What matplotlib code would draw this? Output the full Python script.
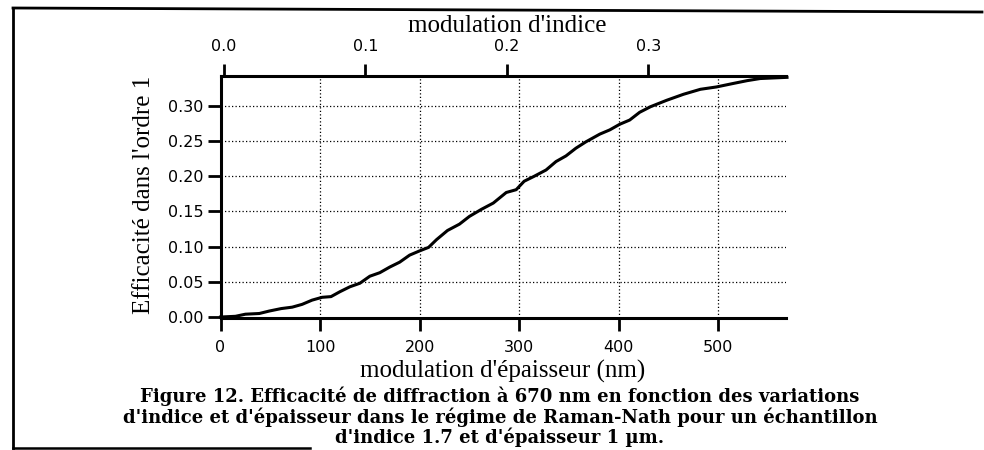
import matplotlib
matplotlib.use("Agg")
import matplotlib.pyplot as plt
from matplotlib.lines import Line2D

# ---- data ----
thickness_nm = [0, 15, 25, 39, 49, 61, 72, 82, 92, 102, 111, 120, 130, 140, 150,
                160, 170, 180, 190, 200, 209, 217, 228, 240, 250, 262, 274, 287,
                297, 305, 315, 327, 337, 347, 357, 367, 381, 391, 401, 411, 421,
                432, 448, 465, 482, 498, 515, 529, 542, 569]
efficiency = [0.000, 0.001, 0.004, 0.005, 0.0085, 0.012, 0.014, 0.018, 0.024, 0.028,
              0.029, 0.036, 0.043, 0.048, 0.058, 0.063, 0.071, 0.078, 0.088, 0.094,
              0.099, 0.110, 0.123, 0.132, 0.143, 0.153, 0.162, 0.177, 0.181, 0.193,
              0.200, 0.209, 0.221, 0.229, 0.240, 0.249, 0.260, 0.266, 0.274, 0.280,
              0.291, 0.299, 0.308, 0.3166, 0.3237, 0.327, 0.332, 0.336, 0.339, 0.3407]

bottom_ticks = [0, 100, 200, 300, 400, 500]
left_ticks = [0.00, 0.05, 0.10, 0.15, 0.20, 0.25, 0.30]
left_labels = ["0.00", "0.05", "0.10", "0.15", "0.20", "0.25", "0.30"]
top_ticks = [0.0, 0.1, 0.2, 0.3]
top_labels = ["0.0", "0.1", "0.2", "0.3"]

xlabel_bottom = "modulation d'épaisseur (nm)"
xlabel_top = "modulation d'indice"
ylabel = "Efficacité dans l'ordre 1"
caption = ["Figure 12. Efficacité de diffraction à 670 nm en fonction des variations",
           "d'indice et d'épaisseur dans le régime de Raman-Nath pour un échantillon",
           "d'indice 1.7 et d'épaisseur 1 µm."]

W, H = 984, 450
fig = plt.figure(figsize=(W / 100, H / 100), dpi=100)
fig.patch.set_facecolor("white")

def fx(px):
    return px / W

def fy(py):
    return 1 - py / H

ax_l, ax_r, ax_t, ax_b = 220.5, 786, 76, 318
ax = fig.add_axes([fx(ax_l), fy(ax_b), (ax_r - ax_l) / W, (ax_b - ax_t) / H])
ax.set_xlim(0, 568)
ax.set_ylim(-0.0014, 0.3426)

tick_font = dict(family="DejaVu Sans", size=11.5)
serif = "Liberation Serif"

ax.plot(thickness_nm, efficiency, color="black", lw=2.2, solid_joinstyle="round",
        zorder=5, clip_on=False)

for x in bottom_ticks[1:]:
    ax.axvline(x, color="black", lw=0.9, ls=(0, (1.0, 1.8)), zorder=1)
for y in left_ticks[1:]:
    ax.axhline(y, color="black", lw=0.9, ls=(0, (1.0, 1.8)), zorder=1)

ax.set_xticks(bottom_ticks)
ax.set_xticklabels([str(t) for t in bottom_ticks], **tick_font)
ax.set_yticks(left_ticks)
ax.set_yticklabels(left_labels, **tick_font)
ax.tick_params(axis="x", direction="out", length=9, width=2, pad=7)
ax.tick_params(axis="y", direction="out", length=9.5, width=2, pad=3)

for side in ["left", "bottom", "top"]:
    ax.spines[side].set_linewidth(2.2)
ax.spines["right"].set_visible(False)

axt = ax.twiny()
axt.set_xlim(-0.0025, 0.3973)
axt.set_xticks(top_ticks)
axt.set_xticklabels(top_labels, **tick_font)
axt.tick_params(axis="x", direction="out", length=9, width=2, pad=7)
for s in axt.spines.values():
    s.set_visible(False)

# labels
fig.text(fx(503), fy(378), xlabel_bottom, family=serif, size=18,
         ha="center", va="baseline")
fig.text(fx(507), fy(31.5), xlabel_top, family=serif, size=18,
         ha="center", va="baseline")
fig.text(fx(150), fy(195), ylabel, family=serif, size=18, rotation=90,
         rotation_mode="anchor", ha="center", va="baseline")

for line, base in zip(caption, [401.5, 423, 443]):
    fig.text(fx(500), fy(base), line, family="DejaVu Serif", weight="bold",
             size=13, ha="center", va="baseline")

# frame of the figure
fig.add_artist(Line2D([fx(13), fx(982)], [fy(8), fy(12)], color="black", lw=2.0))
fig.add_artist(Line2D([fx(13), fx(13)], [fy(8), fy(448)], color="black", lw=2.0))
fig.add_artist(Line2D([fx(13), fx(310)], [fy(448), fy(448)], color="black", lw=1.8))

fig.savefig("out.png", dpi=100, facecolor="white")
